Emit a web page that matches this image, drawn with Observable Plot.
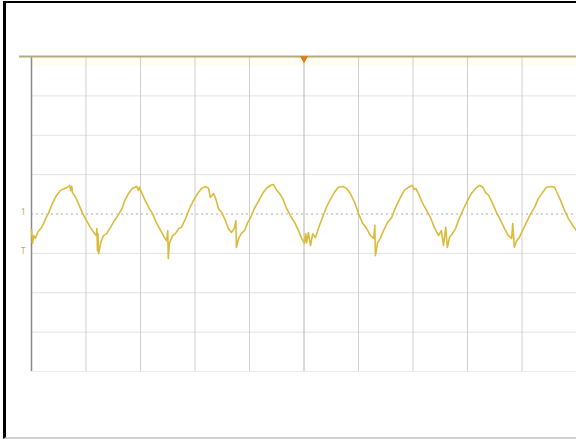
<!DOCTYPE html>
<html>
<head>
<meta charset="utf-8">
<script src="https://cdn.jsdelivr.net/npm/d3@7"></script>
<script src="https://cdn.jsdelivr.net/npm/@observablehq/plot@0.6"></script>
<style>
  html, body { margin: 0; padding: 0; background: #fff; }
  #wrap { position: relative; width: 576px; height: 439px; overflow: hidden; font-family: "DejaVu Sans", sans-serif; }
  #frame { position: absolute; left: 3px; top: 1px; width: 590px; height: 434px;
           border-left: 3px solid #000; border-top: 2px solid #000; border-bottom: 2px solid #d0d0d0; pointer-events: none; }
  #chart { position: absolute; left: 0; top: 0; }
</style>
</head>
<body>
<div id="wrap"><div id="chart"></div><div id="frame"></div></div>
<script>
// Time in divisions (10 div across), voltage in divisions (8 div tall)
const timeDiv = [0.00,0.02,0.04,0.07,0.12,0.17,0.22,0.26,0.31,0.39,0.46,0.53,0.61,0.66,0.70,0.72,0.74,0.75,0.81,0.86,0.94,
  1.01,1.08,1.16,1.19,1.20,1.21,1.22,1.23,1.27,1.32,1.38,1.45,1.52,1.60,1.67,1.71,1.78,1.85,1.93,1.96,1.98,
  2.02,2.07,2.15,2.22,2.29,2.37,2.44,2.48,2.50,2.51,2.53,2.55,2.59,2.64,2.70,2.75,2.83,2.90,2.97,
  3.05,3.12,3.19,3.25,3.28,3.34,3.38,3.43,3.49,3.56,3.61,3.67,3.72,3.75,3.76,3.80,3.85,3.91,3.96,
  4.02,4.09,4.17,4.24,4.31,4.39,4.44,4.50,4.55,4.61,4.68,4.75,4.83,4.90,4.95,
  5.01,5.03,5.05,5.08,5.12,5.16,5.21,5.27,5.34,5.41,5.49,5.56,5.63,5.71,5.78,5.85,5.93,
  6.00,6.07,6.15,6.22,6.28,6.30,6.31,6.35,6.40,6.46,6.53,6.61,6.68,6.77,6.84,6.92,6.99,
  7.02,7.05,7.10,7.17,7.25,7.32,7.39,7.47,7.52,7.56,7.60,7.63,7.67,7.72,7.78,7.85,7.93,
  8.00,8.07,8.15,8.22,8.28,8.33,8.39,8.46,8.53,8.61,8.68,8.75,8.81,8.83,8.86,8.90,8.95,
  9.01,9.08,9.16,9.23,9.30,9.38,9.45,9.52,9.60,9.65,9.71,9.78,9.85,9.93,10.00];
const voltDiv = [-0.40,-0.75,-0.55,-0.62,-0.45,-0.37,-0.25,-0.11,0.01,0.29,0.47,0.60,0.65,0.68,0.73,0.60,0.70,0.55,0.42,0.27,0.01,
  -0.17,-0.34,-0.50,-0.55,-0.37,-0.93,-0.50,-1.01,-0.73,-0.55,-0.50,-0.34,-0.17,-0.01,0.17,0.34,0.52,0.65,0.70,0.60,0.68,
  0.55,0.39,0.17,0.01,-0.22,-0.42,-0.60,-0.68,-0.42,-1.13,-0.75,-0.68,-0.55,-0.50,-0.37,-0.34,-0.11,0.14,0.34,
  0.52,0.65,0.70,0.65,0.42,0.52,0.39,0.14,0.04,-0.17,-0.37,-0.47,-0.37,-0.17,-0.85,-0.62,-0.50,-0.42,-0.24,
  -0.09,0.14,0.34,0.52,0.65,0.73,0.75,0.60,0.52,0.39,0.14,-0.04,-0.22,-0.42,-0.60,
  -0.75,-0.50,-0.73,-0.47,-0.80,-0.50,-0.60,-0.34,-0.09,0.17,0.39,0.55,0.68,0.70,0.65,0.52,0.29,
  0.01,-0.22,-0.37,-0.55,-0.62,-0.29,-1.06,-0.73,-0.62,-0.42,-0.22,-0.09,0.17,0.42,0.60,0.68,0.73,
  0.62,0.65,0.52,0.29,0.09,-0.09,-0.34,-0.55,-0.42,-0.80,-0.34,-0.85,-0.60,-0.50,-0.37,-0.11,0.14,
  0.34,0.52,0.65,0.73,0.68,0.55,0.47,0.27,0.04,-0.17,-0.37,-0.55,-0.62,-0.24,-0.85,-0.68,-0.60,
  -0.42,-0.22,0.01,0.17,0.39,0.55,0.68,0.70,0.68,0.52,0.34,0.09,-0.11,-0.29,-0.42];
const gridX = [0,1,2,3,4,5,6,7,8,9,10];
const gridY = [-4,-3,-2,-1,0,1,2,3];
const channelLabels = ["1", "T"];
const channelLevels = [0.05, -0.95];
const triggerPos = [5];

const trace = timeDiv.map((t, i) => ({t, v: voltDiv[i]}));
const markers = channelLabels.map((s, i) => ({s, v: channelLevels[i]}));

const chart = Plot.plot({
  width: 576,
  height: 439,
  marginLeft: 31,
  marginRight: 0,
  marginTop: 56,
  marginBottom: 68,
  x: {domain: [0, 10], axis: null},
  y: {domain: [-4, 4], axis: null},
  marks: [
    Plot.rect([0], {x1: 0, x2: 10, y1: 3.75, y2: 4, fill: "#fffdf2"}),
    Plot.ruleY(gridY.filter(d => d !== 0), {x1: 0, x2: 10, stroke: "#e2e2e2", strokeWidth: 1}),
    Plot.ruleY([-4], {x1: 0, x2: 10, stroke: "#ececec", strokeWidth: 1}),
    Plot.ruleY([0], {x1: 0, x2: 10, stroke: "#a8acc0", strokeWidth: 1, strokeDasharray: "2,3"}),
    Plot.ruleX(gridX.filter(d => d !== 0 && d !== 5), {y1: -4, y2: 4, stroke: "#cfcfcf", strokeWidth: 1}),
    Plot.ruleX([5], {y1: -4, y2: 4, stroke: "#b4b4b4", strokeWidth: 1}),
    Plot.ruleX([0], {y1: -4, y2: 4, stroke: "#8a8a8a", strokeWidth: 1.5}),
    Plot.ruleY([4], {x1: -0.22, x2: 10, stroke: "#b3ab80", strokeWidth: 2}),
    Plot.line(trace, {x: "t", y: "v", stroke: "#dcbb3c", strokeWidth: 1.6, curve: "linear"}),
    Plot.dot(triggerPos, {x: d => d, y: 3.95, symbol: "triangle", r: 3, fill: "#e07a18", rotate: 180}),
    Plot.text(markers, {x: -0.15, y: "v", text: "s", fill: "#c9a84a", fontSize: 8, textAnchor: "middle"})
  ]
});
document.getElementById("chart").appendChild(chart);
</script>
</body>
</html>
